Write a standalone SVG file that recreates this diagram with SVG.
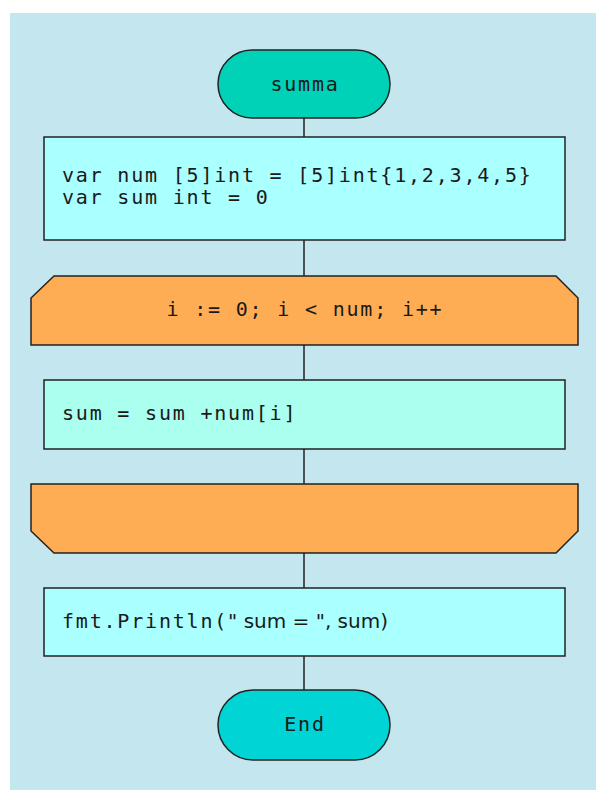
<svg xmlns="http://www.w3.org/2000/svg" width="606" height="803" viewBox="0 0 606 803">
<style>
.n{stroke:#222;stroke-width:1.5}
.t{font-family:"DejaVu Sans Mono","Liberation Mono",monospace;font-size:20px;fill:#1a1a1a;letter-spacing:1.8px}
.c{text-anchor:middle}
.p{font-family:"DejaVu Sans","Liberation Sans",sans-serif;letter-spacing:0;font-size:20px}
</style>
<rect x="0" y="0" width="606" height="803" fill="#ffffff"/>
<rect x="10" y="13" width="586" height="777" fill="#c4e6ee"/>
<g id="connectors" stroke="#222" stroke-width="1.5">
<line x1="304" y1="118" x2="304" y2="137"/>
<line x1="304" y1="240" x2="304" y2="276"/>
<line x1="304" y1="345" x2="304" y2="380"/>
<line x1="304" y1="449" x2="304" y2="484"/>
<line x1="304" y1="553" x2="304" y2="588"/>
<line x1="304" y1="656" x2="304" y2="690"/>
</g>
<g id="start">
<rect class="n" x="218" y="50" width="172" height="68" rx="34" fill="#00d2b8"/>
<text class="t c" x="305" y="91">summa</text>
</g>
<g id="decl">
<rect class="n" x="44" y="137" width="521" height="103" fill="#aaffff"/>
<text class="t" x="62" y="182">var num [5]int = [5]int{1,2,3,4,5}</text>
<text class="t" x="62" y="204">var sum int = 0</text>
</g>
<g id="loop">
<polygon class="n" points="54,276 556,276 578,298 578,345 31,345 31,298" fill="#ffad55"/>
<text class="t c" x="305" y="316">i := 0; i &lt; num; i++</text>
</g>
<g id="body">
<rect class="n" x="44" y="380" width="521" height="69" fill="#aaffee"/>
<text class="t" x="62" y="420">sum = sum +num[i]</text>
</g>
<g id="loopend">
<polygon class="n" points="31,484 578,484 578,531 556,553 54,553 31,531" fill="#ffad55"/>
</g>
<g id="print">
<rect class="n" x="44" y="588" width="521" height="68" fill="#aaffff"/>
<text class="t" x="62" y="628">fmt.Println(<tspan class="p">" sum = ", sum)</tspan></text>
</g>
<g id="end">
<rect class="n" x="218" y="690" width="172" height="70" rx="35" fill="#00d4d4"/>
<text class="t c" x="305" y="731">End</text>
</g>
</svg>
